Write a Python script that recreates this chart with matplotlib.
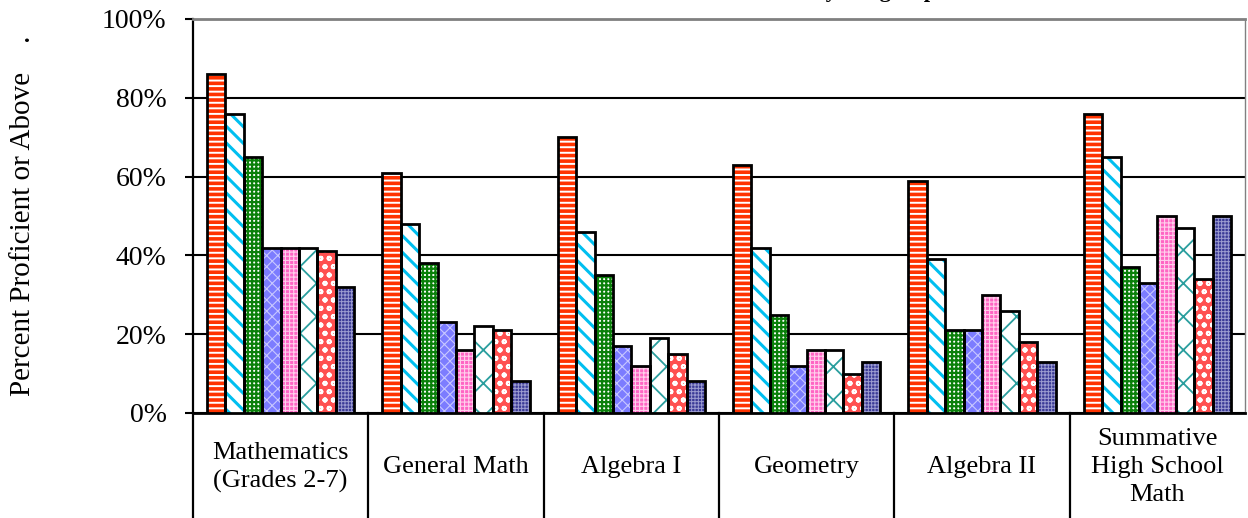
import matplotlib.pyplot as plt
import numpy as np

plt.rcParams['font.family'] = ['Liberation Serif', 'DejaVu Serif']

# Subjects (categories along the bottom)
categories = ['Mathematics\n(Grades 2-7)', 'General Math', 'Algebra I',
              'Geometry', 'Algebra II', 'Summative\nHigh School\nMath']

# Percent proficient or above, one list per subgroup (left to right in each group)
subgroup_1 = [86, 61, 70, 63, 59, 76]
subgroup_2 = [76, 48, 46, 42, 39, 65]
subgroup_3 = [65, 38, 35, 25, 21, 37]
subgroup_4 = [42, 23, 17, 12, 21, 33]
subgroup_5 = [42, 16, 12, 16, 30, 50]
subgroup_6 = [42, 22, 19, 16, 26, 47]
subgroup_7 = [41, 21, 15, 10, 18, 34]
subgroup_8 = [32, 8, 8, 13, 13, 50]
series = [subgroup_1, subgroup_2, subgroup_3, subgroup_4,
          subgroup_5, subgroup_6, subgroup_7, subgroup_8]

yticks = [0, 20, 40, 60, 80, 100]
ytick_labels = ['0%', '20%', '40%', '60%', '80%', '100%']

# (face colour, hatch colour, hatch, hatch linewidth)
styles = [
    ('#FF3300', 'white', '---', 1.4),
    ('white', '#00BFF0', '\\\\', 2.2),
    ('white', '#0A800A', '++++', 1.6),
    ('#7C7CFF', '#C8C8FF', 'xxx', 0.8),
    ('#FF66C4', '#FFD0EC', '++++', 0.8),
    ('white', '#2A9E9E', 'x', 1.3),
    ('#FF5050', 'white', 'oo', 1.3),
    ('#3A3A96', '#9C9CD0', '+++++', 0.7),
]

W, H = 1248, 518
fig = plt.figure(figsize=(W / 100, H / 100), dpi=100)
ax = fig.add_axes([193 / W, 105 / H, 1052 / W, 394 / H])

x = np.arange(len(categories)) + 0.5
w = 0.105
for i, (vals, (face, hc, hatch, hlw)) in enumerate(zip(series, styles)):
    pos = x + (i - 3.5) * w
    with plt.rc_context({'hatch.linewidth': hlw}):
        bars = ax.bar(pos, vals, w, color=face, edgecolor=hc, hatch=hatch,
                      linewidth=0, zorder=3)
        for b in bars:
            if hasattr(b, 'set_hatch_linewidth'):
                b.set_hatch_linewidth(hlw)
    ax.bar(pos, vals, w, fill=False, edgecolor='black', linewidth=2, zorder=4)

ax.set_xlim(0, 6)
ax.set_ylim(0, 100)
ax.set_yticks(yticks)
ax.set_yticklabels(ytick_labels, fontsize=20)
ax.tick_params(axis='y', direction='out', length=6, width=1.5, pad=13)
ax.set_xticks([])
ax.yaxis.grid(True, color='black', linewidth=1.5, zorder=1)

ax.spines['left'].set_linewidth(1.6)
ax.spines['bottom'].set_linewidth(2)
ax.spines['top'].set_color('#808080')
ax.spines['top'].set_linewidth(2)
ax.spines['right'].set_color('#808080')
ax.spines['right'].set_linewidth(1)

# category table below the axis
tr = ax.get_xaxis_transform()
for xb in range(6):
    ax.plot([xb, xb], [0, -0.4], transform=tr, color='black', linewidth=1.6,
            clip_on=False)
for xc, lab in zip(x, categories):
    ax.text(xc, -0.138, lab, transform=tr, ha='center', va='center',
            fontsize=19, linespacing=1.35)

fig.text(23 / W, 1 - 216 / H, 'Percent Proficient or Above    .', rotation=90,
         ha='center', va='center', fontsize=21)

# title sits mostly above the image edge, only the descenders show
fig.text(936 / W, 1.006, 'Mathematics Results by Subgroup', ha='right',
         va='baseline', fontsize=16, fontweight='bold')

fig.savefig('out.png', dpi=100)
